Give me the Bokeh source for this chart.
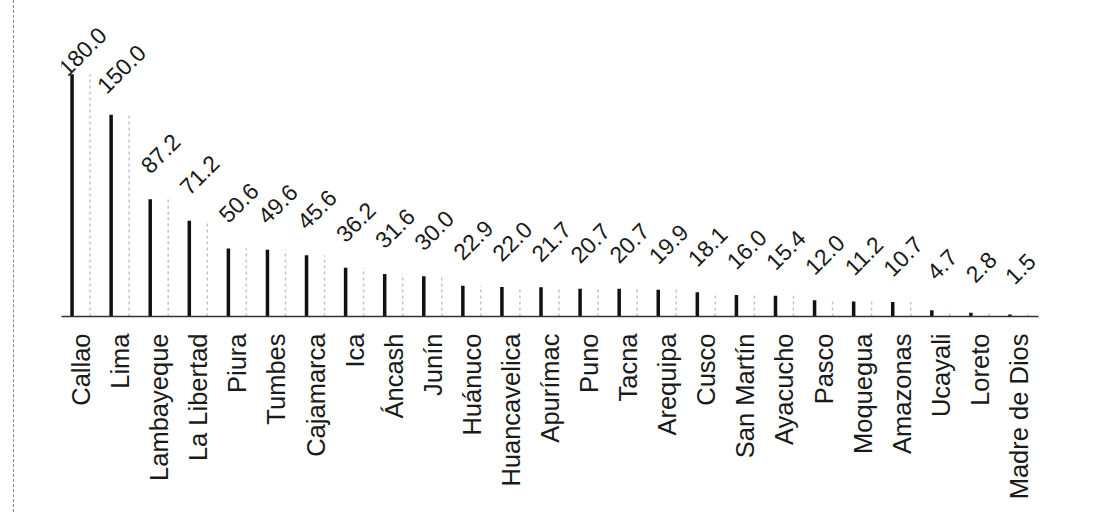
import math
from bokeh.plotting import figure
from bokeh.models import ColumnDataSource, FactorRange, Range1d, LabelSet, Spacer
from bokeh.layouts import row
from bokeh.core.properties import value
from bokeh.transform import dodge
from bokeh.embed import file_html
from bokeh.resources import INLINE

regions = ["Callao", "Lima", "Lambayeque", "La Libertad", "Piura", "Tumbes",
           "Cajamarca", "Ica", "Áncash", "Junín", "Huánuco", "Huancavelica",
           "Apurímac", "Puno", "Tacna", "Arequipa", "Cusco", "San Martín",
           "Ayacucho", "Pasco", "Moquegua", "Amazonas", "Ucayali", "Loreto",
           "Madre de Dios"]
values = [180.0, 150.0, 87.2, 71.2, 50.6, 49.6, 45.6, 36.2, 31.6, 30.0, 22.9,
          22.0, 21.7, 20.7, 20.7, 19.9, 18.1, 16.0, 15.4, 12.0, 11.2, 10.7,
          4.7, 2.8, 1.5]
value_labels = [f"{v:.1f}" for v in values]

LABEL_CAP = 163.0  # labels of the tallest bars are pushed inside the plot area
label_y = [min(v, LABEL_CAP) for v in values]

src = ColumnDataSource(dict(cat=regions, val=values, lab=value_labels, ly=label_y))

p = figure(x_range=FactorRange(factors=regions, range_padding=0),
           y_range=Range1d(0, 220),
           width=1085, height=512,
           output_backend="svg", toolbar_location=None,
           min_border_left=47, min_border_right=61,
           min_border_top=20, min_border_bottom=196)
p.styles = {"border-left": "1px dashed #8a8a8a"}

p.background_fill_color = "white"
p.border_fill_color = "white"
p.outline_line_color = None
p.grid.visible = False
p.yaxis.visible = False

# light right edge of each bar
p.segment(x0=dodge("cat", 0.23, range=p.x_range), y0=0,
          x1=dodge("cat", 0.23, range=p.x_range), y1="val",
          source=src, line_color="#c4c4c4", line_width=1.5, line_dash="3 3")
# dark left edge of each bar
p.vbar(x=dodge("cat", -0.23, range=p.x_range), top="val", width=0.09,
       source=src, fill_color="#111111", line_color=None)

labels = LabelSet(x="cat", y="ly", text="lab", source=src,
                  x_offset=1, y_offset=46, angle=math.pi / 4,
                  text_align="center", text_baseline="middle",
                  text_font=value("Liberation Sans"), text_font_size=value("23px"),
                  text_color="#1a1a1a")
p.add_layout(labels)

ax = p.xaxis[0]
ax.axis_line_color = "#333333"
ax.axis_line_width = 1.5
ax.major_tick_line_color = None
ax.minor_tick_line_color = None
ax.major_label_orientation = math.pi / 2
ax.major_label_standoff = 11
ax.major_label_text_font = "Liberation Sans"
ax.major_label_text_font_size = "25.5px"
ax.major_label_text_color = "#1a1a1a"

layout = row(Spacer(width=13, height=512), p)
open("out.html", "w").write(file_html(layout, INLINE))
